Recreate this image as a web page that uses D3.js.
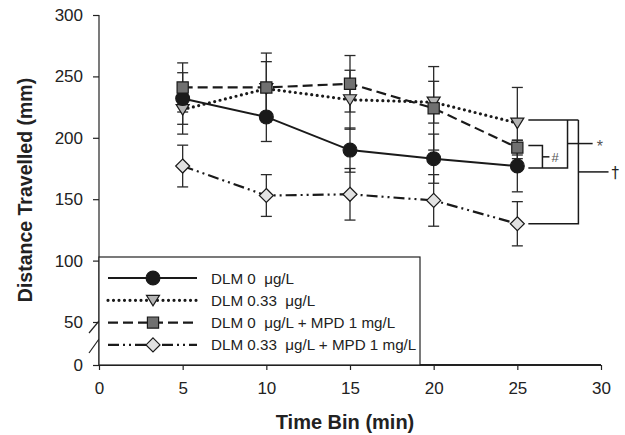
<!DOCTYPE html>
<html>
<head>
<meta charset="utf-8">
<script src="https://cdn.jsdelivr.net/npm/d3@7"></script>
<style>
  body { margin: 0; background: #fff; }
  text { font-family: "Liberation Sans", Arial, Helvetica, sans-serif; fill: #222; }
</style>
</head>
<body>
<svg id="chart" width="625" height="435"></svg>
<script>
// data
var timeBins = [5, 10, 15, 20, 25];
var xTicks = [0, 5, 10, 15, 20, 25, 30];
var yTicks = [0, 50, 100, 150, 200, 250, 300];

var dlm0 = [232, 217, 190, 183, 177];
var dlm0Err = [21, 20, 18, 20, 21];
var dlm033 = [223, 240, 231, 229, 212];
var dlm033Err = [20, 22, 24, 17, 29];
var dlm0Mpd = [241, 241, 244, 224, 192];
var dlm0MpdErr = [20, 28, 23, 34, 6];
var dlm033Mpd = [177, 153, 154, 149, 130];
var dlm033MpdErr = [17, 17, 21, 21, 18];

var labels = ["DLM 0  \u03BCg/L", "DLM 0.33  \u03BCg/L", "DLM 0  \u03BCg/L + MPD 1 mg/L", "DLM 0.33  \u03BCg/L + MPD 1 mg/L"];

var width = 625, height = 435;
var padL = 99, padR = 601, padT = 15, padB = 365;

var svg = d3.select("#chart");

var xScale = d3.scaleLinear().domain([0, 30]).range([padL, padR]);
// axis is broken between 0 and 50
var yScale = d3.scaleLinear().domain([0, 50, 300]).range([padB, 322, padT]);

// marker paths
function tri(){ return "M-6.5,-5L6.5,-5L0,5.5Z"; }
function diamond(){ return "M0,-7L7,0L0,7L-7,0Z"; }

var series = [
	{name: labels[1], vals: dlm033, err: dlm033Err, dash: "0,5.5", width: 3.2, cap: "round",
		shape: tri, fill: "#b4b4b4"},
	{name: labels[0], vals: dlm0, err: dlm0Err, dash: null, width: 2, cap: "butt",
		shape: function(){ return d3.symbol(d3.symbolCircle, 150)(); }, fill: "#1a1a1a"},
	{name: labels[2], vals: dlm0Mpd, err: dlm0MpdErr, dash: "10,5", width: 2.2, cap: "butt",
		shape: function(){ return d3.symbol(d3.symbolSquare, 125)(); }, fill: "#707070"},
	{name: labels[3], vals: dlm033Mpd, err: dlm033MpdErr, dash: "11,4,2,4,2,4", width: 2.2, cap: "butt",
		shape: diamond, fill: "#e2e2e2"}
];
var legendOrder = [1, 0, 2, 3];

// axes
var yAxis = svg.append("g")
	.attr("transform", "translate(" + padL + ",0)")
	.call(d3.axisLeft(yScale).tickValues(yTicks).tickSize(6).tickPadding(10));
yAxis.selectAll("text").style("font-size", "17px");
yAxis.select(".domain").attr("stroke", "#222").attr("stroke-width", 1.2)
	.attr("d", "M0," + padT + "V" + padB);
yAxis.selectAll(".tick line").attr("stroke", "#222").attr("stroke-width", 1.2);

var xAxis = svg.append("g")
	.attr("transform", "translate(0," + padB + ")")
	.call(d3.axisBottom(xScale).tickValues(xTicks).tickSize(5).tickPadding(12));
xAxis.selectAll("text").style("font-size", "17px");
xAxis.select(".domain").attr("stroke", "#222").attr("stroke-width", 2)
	.attr("d", "M" + padL + ",0H" + padR);
xAxis.selectAll(".tick line").attr("stroke", "#222").attr("stroke-width", 1.2);

// axis break marks
[[yScale(50) + 11, yScale(50) - 1], [yScale(0) - 12, yScale(0) - 26]].forEach(function(b){
	svg.append("line")
		.attr("x1", padL - 10).attr("y1", b[0])
		.attr("x2", padL).attr("y2", b[1])
		.attr("stroke", "#222").attr("stroke-width", 1.2);
});

svg.append("text")
	.attr("transform", "translate(32," + 190 + ") rotate(-90)")
	.attr("text-anchor", "middle")
	.style("font-size", "19.5px").style("font-weight", "bold")
	.text("Distance Travelled (mm)");

svg.append("text")
	.attr("x", 345).attr("y", 429)
	.attr("text-anchor", "middle")
	.style("font-size", "20px").style("font-weight", "bold")
	.text("Time Bin (min)");

// legend box
svg.append("rect")
	.attr("x", padL).attr("y", 257)
	.attr("width", 420 - padL).attr("height", padB - 257)
	.attr("fill", "#fff").attr("stroke", "#222").attr("stroke-width", 1.2);

// lines
var line = d3.line()
	.x(function(d, i){ return xScale(timeBins[i]); })
	.y(function(d){ return yScale(d); });

series.forEach(function(s){
	svg.append("path")
		.datum(s.vals)
		.attr("d", line)
		.attr("fill", "none")
		.attr("stroke", "#1a1a1a")
		.attr("stroke-width", s.width)
		.attr("stroke-linecap", s.cap)
		.attr("stroke-dasharray", s.dash);
});

// error bars
series.forEach(function(s){
	var g = svg.append("g").attr("stroke", "#2a2a2a").attr("stroke-width", 1.3);
	s.vals.forEach(function(v, i){
		var x = xScale(timeBins[i]);
		var y1 = yScale(v + s.err[i]), y2 = yScale(v - s.err[i]);
		g.append("line").attr("x1", x).attr("x2", x).attr("y1", y1).attr("y2", y2);
		g.append("line").attr("x1", x - 5.5).attr("x2", x + 5.5).attr("y1", y1).attr("y2", y1);
		g.append("line").attr("x1", x - 5.5).attr("x2", x + 5.5).attr("y1", y2).attr("y2", y2);
	});
});

// markers
series.forEach(function(s){
	svg.append("g").selectAll("path")
		.data(s.vals)
		.join("path")
		.attr("transform", function(d, i){ return "translate(" + xScale(timeBins[i]) + "," + yScale(d) + ")"; })
		.attr("d", s.shape())
		.attr("fill", s.fill)
		.attr("stroke", "#1a1a1a")
		.attr("stroke-width", 1.2);
});

// legend entries
legendOrder.forEach(function(k, j){
	var s = series[k];
	var y = 278 + j * 22.3;
	svg.append("line")
		.attr("x1", 108).attr("x2", 197).attr("y1", y).attr("y2", y)
		.attr("stroke", "#1a1a1a")
		.attr("stroke-width", s.width)
		.attr("stroke-linecap", s.cap)
		.attr("stroke-dasharray", s.dash);
	svg.append("path")
		.attr("transform", "translate(153," + y + ")")
		.attr("d", s.shape())
		.attr("fill", s.fill)
		.attr("stroke", "#1a1a1a")
		.attr("stroke-width", 1.2);
	svg.append("text")
		.attr("x", 211).attr("y", y + 5.5)
		.attr("xml:space", "preserve")
		.style("white-space", "pre")
		.style("font-size", "15.2px")
		.text(s.name);
});

// significance brackets at the last time bin
var last = timeBins.length - 1;
var yTri = yScale(dlm033[last]) - 3;
var ySq = yScale(dlm0Mpd[last]) - 2;
var yCir = yScale(dlm0[last]) + 2;
var yDia = yScale(dlm033Mpd[last]);
var x0 = xScale(timeBins[last]) + 11;
var xHash = xScale(26.5), xStar = xScale(28), xDag = xScale(28.65);

var br = svg.append("g").attr("stroke", "#1a1a1a").attr("stroke-width", 1.5).attr("fill", "none");
br.append("path").attr("d", "M" + x0 + "," + yTri + "H" + xDag);
br.append("path").attr("d", "M" + x0 + "," + ySq + "H" + xHash + "V" + yCir);
br.append("path").attr("d", "M" + x0 + "," + yCir + "H" + xStar + "V" + yTri);
br.append("path").attr("d", "M" + x0 + "," + yDia + "H" + xDag + "V" + yTri);
br.append("path").attr("d", "M" + xHash + "," + ((ySq + yCir) / 2) + "h7");
br.append("path").attr("d", "M" + xStar + "," + ((yTri + yCir) / 2 - 0.5) + "H" + xScale(29.5));
br.append("path").attr("d", "M" + xDag + "," + ((yTri + yDia) / 2) + "H" + xScale(30.45));

svg.append("text").attr("x", xHash + 9).attr("y", (ySq + yCir) / 2 + 5)
	.attr("fill", "#555").style("fill", "#555")
	.style("font-size", "13px").text("#");
svg.append("text").attr("x", xScale(29.5) + 4).attr("y", (yTri + yCir) / 2 + 8)
	.attr("fill", "#555").style("fill", "#555")
	.style("font-size", "16px").text("*");
svg.append("text").attr("x", xScale(30.45) + 3).attr("y", (yTri + yDia) / 2 + 6)
	.attr("fill", "#222").style("fill", "#222")
	.style("font-family", "'DejaVu Sans', sans-serif")
	.style("font-size", "15px").text("\u2020");
</script>
</body>
</html>
